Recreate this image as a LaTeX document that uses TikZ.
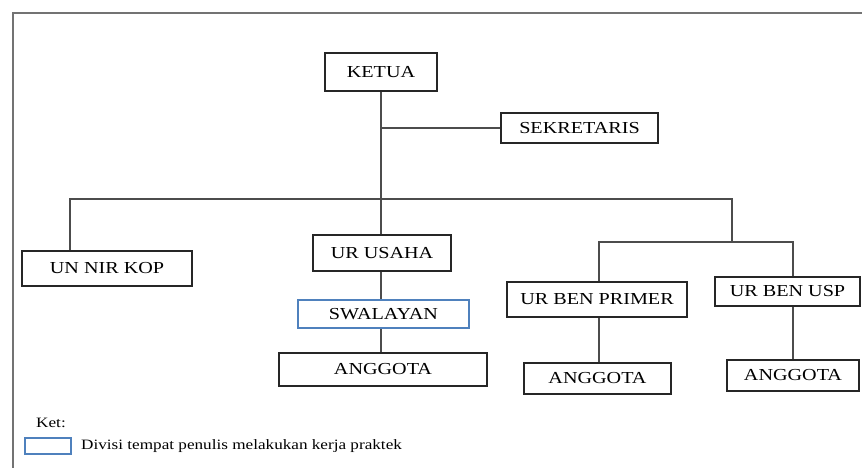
\documentclass[tikz,border=0pt]{standalone}
\usepackage{fontspec}
\setmainfont[FakeStretch=1.2]{Liberation Serif}
\usepackage{xcolor}
\usepackage{tikz}
\usetikzlibrary{positioning,calc}

\definecolor{wordblue}{HTML}{4F81BD}

\begin{document}
\begin{tikzpicture}[x=1pt,y=-1pt,
  every node/.style={font=\fontsize{16.8}{18}\selectfont,inner sep=0pt},
  b/.style={draw=black!85,line width=1.1pt,fill=white},
  hl/.style={draw=wordblue,line width=2.6pt,fill=white},
  c/.style={draw=black!70,line width=1.3pt}]
 \useasboundingbox (0,0) rectangle (862,468);
 % frame
 \draw[black!55,line width=2pt] (13,468) -- (13,13) -- (862,13);
 % boxes
 \node[b,minimum width=112pt,minimum height=38pt] (ketua) at (381,72) {KETUA};
 \node[b,minimum width=157pt,minimum height=30pt] (sekr) at (579.5,128) {SEKRETARIS};
 \node[b,minimum width=170pt,minimum height=35pt] (unnir) at (107,268.5) {UN NIR KOP};
 \node[b,minimum width=138pt,minimum height=36pt] (usaha) at (382,253) {UR USAHA};
 \node[hl,minimum width=171pt,minimum height=28pt] (swal) at (383.5,314) {SWALAYAN};
 \node[b,minimum width=208pt,minimum height=33pt] (ang1) at (383,369.5) {ANGGOTA};
 \node[b,minimum width=180pt,minimum height=35pt] (primer) at (597,299.5) {UR BEN PRIMER};
 \node[b,minimum width=147pt,minimum height=31pt] (ang2) at (597.5,378.5) {ANGGOTA};
 \node[b,minimum width=145pt,minimum height=29pt] (usp) at (787.5,291.5) {UR BEN USP};
 \node[b,minimum width=132pt,minimum height=31pt] (ang3) at (793,375.5) {ANGGOTA};
 % bus lines
 \coordinate (busl) at (70,199);
 \coordinate (busr) at (732,199);
 \coordinate (subl) at (599,242);
 \coordinate (subr) at (793,242);
 \draw[c] (ketua.south) -- (ketua.south |- usaha.north);
 \draw[c] (sekr.west) -- (sekr.west -| ketua.south);
 \draw[c] (busl |- unnir.north) -- (busl) -- (busr) -- (busr |- subl);
 \draw[c] (subl |- primer.north) -- (subl) -- (subr) -- (subr |- usp.north);
 \draw[c] (usaha.south -| ketua.south) -- (swal.north -| ketua.south);
 \draw[c] (swal.south -| ketua.south) -- (ang1.north -| ketua.south);
 \draw[c] (subl |- primer.south) -- (subl |- ang2.north);
 \draw[c] (subr |- usp.south) -- (subr |- ang3.north);
 % legend
 \node[font=\fontsize{14.3}{16}\selectfont] (ket) at (51,423) {Ket:};
 \node[hl,minimum width=46pt,minimum height=16pt] (key) at (48,446) {};
 \node[font=\fontsize{14.3}{16}\selectfont,anchor=west] (keytxt) at (81,446) {Divisi tempat penulis melakukan kerja praktek};
\end{tikzpicture}
\end{document}
